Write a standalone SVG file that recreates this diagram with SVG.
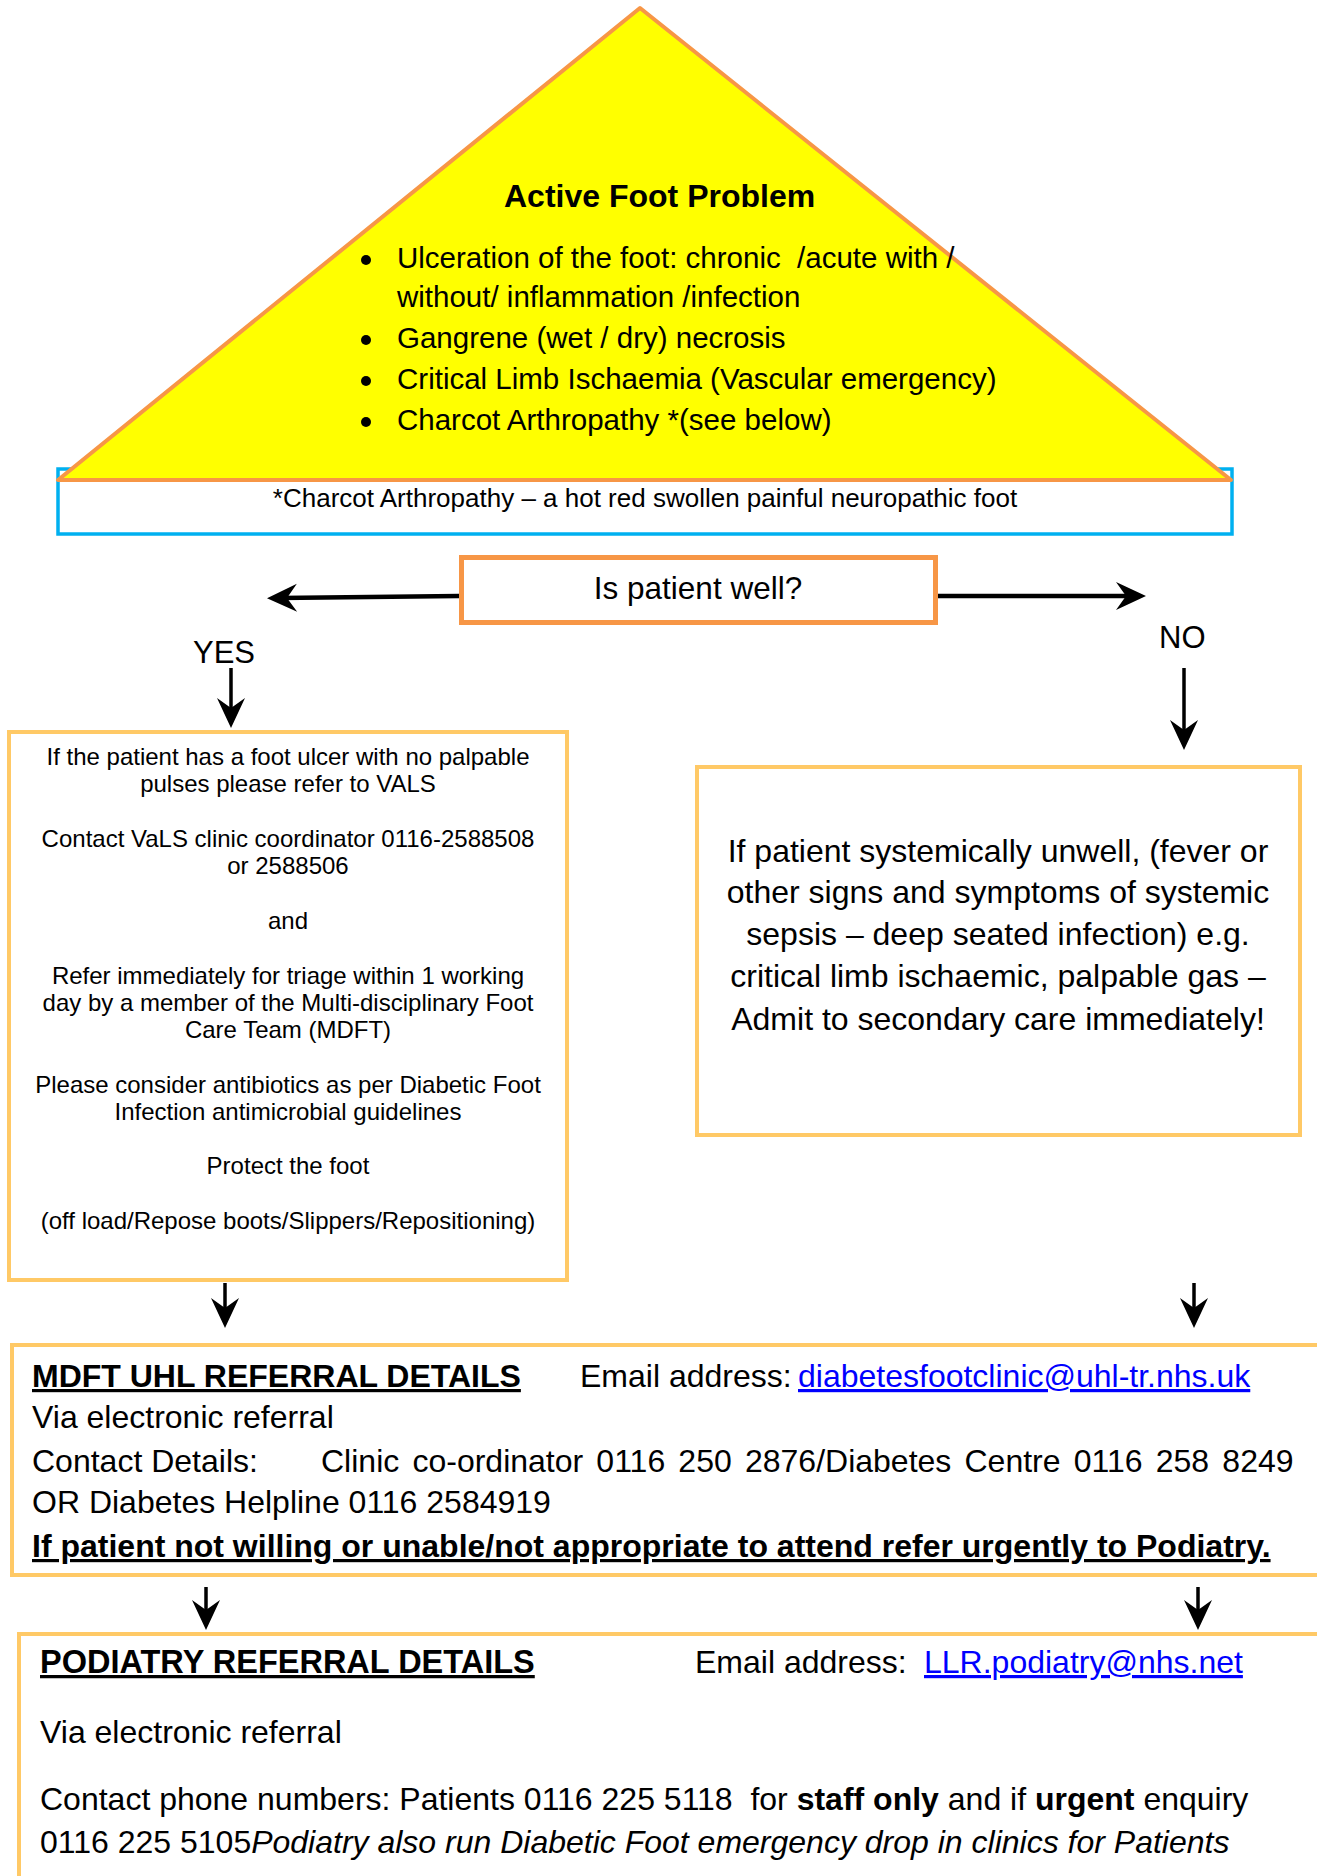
<svg xmlns="http://www.w3.org/2000/svg" width="1317" height="1876" viewBox="0 0 1317 1876">
<style>
text{font-family:"Liberation Sans",Arial,sans-serif;fill:#000}
.pre{white-space:pre}
.b{font-weight:bold}
.u{text-decoration:underline}
.lnk{fill:#0000FF;text-decoration:underline}
.gold{fill:#fff;stroke:#FFC966;stroke-width:4}
.conn line{stroke:#000;fill:none}
.l24{font-size:24px}
.l32{font-size:32px}
</style>
<defs>
<marker id="ah" markerUnits="userSpaceOnUse" markerWidth="32" markerHeight="32" viewBox="-32 -16 32 32" refX="-12" refY="0" orient="auto">
<path d="M0,0 L-30,-14 L-20,0 L-30,14 Z" fill="#000"/>
</marker>
</defs>
<rect width="1317" height="1876" fill="#fff"/>

<g id="active-foot-problem">
<rect x="58" y="469" width="1174" height="65" fill="#fff" stroke="#00B0F0" stroke-width="3.5"/>
<polygon points="640,8 58,480 1231,480" fill="#FFFF00" stroke="#F79646" stroke-width="4" stroke-linejoin="round"/>
<text class="b" x="504" y="207" font-size="32">Active Foot Problem</text>
<g font-size="29.5">
<circle cx="366" cy="260" r="5"/>
<text class="pre" x="397" y="268">Ulceration of the foot: chronic  /acute with /</text>
<text x="397" y="307">without/ inflammation /infection</text>
<circle cx="366" cy="340" r="5"/>
<text x="397" y="348">Gangrene (wet / dry) necrosis</text>
<circle cx="366" cy="381" r="5"/>
<text x="397" y="389">Critical Limb Ischaemia (Vascular emergency)</text>
<circle cx="366" cy="422" r="5"/>
<text x="397" y="430">Charcot Arthropathy *(see below)</text>
</g>
<text x="645" y="507" font-size="26" text-anchor="middle">*Charcot Arthropathy – a hot red swollen painful neuropathic foot</text>
</g>

<g id="is-patient-well">
<rect x="461.5" y="557.5" width="474" height="65" fill="#fff" stroke="#F79646" stroke-width="5"/>
<text x="698" y="599" font-size="31.5" text-anchor="middle">Is patient well?</text>
</g>

<g id="label-yes"><text x="193" y="663" font-size="31">YES</text></g>
<g id="label-no"><text x="1159" y="648" font-size="31">NO</text></g>

<g id="yes-box">
<rect class="gold" x="9" y="732" width="558" height="548"/>
<g class="l24" text-anchor="middle">
<text x="288" y="765">If the patient has a foot ulcer with no palpable</text>
<text x="288" y="792">pulses please refer to VALS</text>
<text x="288" y="847">Contact VaLS clinic coordinator 0116-2588508</text>
<text x="288" y="874">or 2588506</text>
<text x="288" y="929">and</text>
<text x="288" y="984">Refer immediately for triage within 1 working</text>
<text x="288" y="1011">day by a member of the Multi-disciplinary Foot</text>
<text x="288" y="1038">Care Team (MDFT)</text>
<text x="288" y="1093">Please consider antibiotics as per Diabetic Foot</text>
<text x="288" y="1120">Infection antimicrobial guidelines</text>
<text x="288" y="1174">Protect the foot</text>
<text x="288" y="1229">(off load/Repose boots/Slippers/Repositioning)</text>
</g>
</g>

<g id="no-box">
<rect class="gold" x="697" y="767" width="603" height="368"/>
<g class="l32" text-anchor="middle">
<text x="998" y="862">If patient systemically unwell, (fever or</text>
<text x="998" y="903">other signs and symptoms of systemic</text>
<text x="998" y="945">sepsis – deep seated infection) e.g.</text>
<text x="998" y="987">critical limb ischaemic, palpable gas –</text>
<text x="998" y="1030">Admit to secondary care immediately!</text>
</g>
</g>

<g id="mdft-box">
<rect class="gold" x="12" y="1345" width="1330" height="230"/>
<g class="l32">
<text class="b u" x="32" y="1387">MDFT UHL REFERRAL DETAILS</text>
<text x="580" y="1387">Email address:</text>
<text class="lnk" x="798" y="1387">diabetesfootclinic@uhl-tr.nhs.uk</text>
<text x="32" y="1428">Via electronic referral</text>
<text x="32" y="1472">Contact Details:</text>
<text x="321" y="1472" word-spacing="4.3">Clinic co-ordinator 0116 250 2876/Diabetes Centre 0116 258 8249</text>
<text x="32" y="1513">OR Diabetes Helpline 0116 2584919</text>
<text class="b u" x="32" y="1557">If patient not willing or unable/not appropriate to attend refer urgently to Podiatry.</text>
</g>
</g>

<g id="podiatry-box">
<rect class="gold" x="19" y="1634" width="1330" height="300"/>
<g class="l32">
<text class="b u" x="40" y="1673" font-size="32.5">PODIATRY REFERRAL DETAILS</text>
<text x="695" y="1673">Email address:</text>
<text class="lnk" x="924" y="1673">LLR.podiatry@nhs.net</text>
<text x="40" y="1743">Via electronic referral</text>
<text class="pre" x="40" y="1810">Contact phone numbers: Patients 0116 225 5118  for <tspan class="b">staff only</tspan> and if <tspan class="b">urgent</tspan> enquiry</text>
<text x="40" y="1853">0116 225 5105<tspan font-style="italic">Podiatry also run Diabetic Foot emergency drop in clinics for Patients</tspan></text>
</g>
</g>

<g id="connectors" class="conn">
<line x1="459" y1="596" x2="279" y2="598" stroke-width="4.5" marker-end="url(#ah)"/>
<line x1="938" y1="596" x2="1134" y2="596" stroke-width="4.5" marker-end="url(#ah)"/>
<line x1="231" y1="668" x2="231" y2="716" stroke-width="3.5" marker-end="url(#ah)"/>
<line x1="1184" y1="668" x2="1184" y2="738" stroke-width="3.5" marker-end="url(#ah)"/>
<line x1="225" y1="1283" x2="225" y2="1316" stroke-width="3.5" marker-end="url(#ah)"/>
<line x1="1194" y1="1283" x2="1194" y2="1316" stroke-width="3.5" marker-end="url(#ah)"/>
<line x1="206" y1="1587" x2="206" y2="1618" stroke-width="3.5" marker-end="url(#ah)"/>
<line x1="1198" y1="1587" x2="1198" y2="1618" stroke-width="3.5" marker-end="url(#ah)"/>
</g>
</svg>
